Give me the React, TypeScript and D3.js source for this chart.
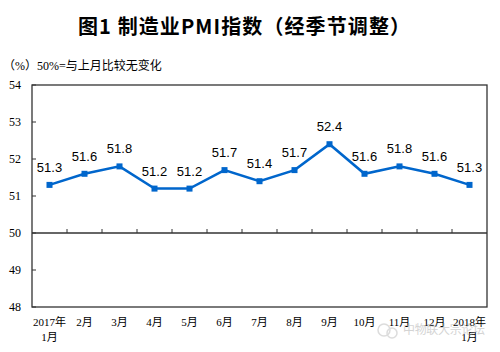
import React from "react";
import * as d3 from "d3";

const categories = ["2017年|1月", "2月", "3月", "4月", "5月", "6月", "7月", "8月", "9月", "10月", "11月", "12月", "2018年|1月"];
const pmiValues = [51.3, 51.6, 51.8, 51.2, 51.2, 51.7, 51.4, 51.7, 52.4, 51.6, 51.8, 51.6, 51.3];
const yTicks = [48, 49, 50, 51, 52, 53, 54];

const W = 500, H = 352;
const M = { left: 32, right: 13, top: 85, bottom: 45 };

export default function App() {
  const x = d3.scaleBand<number>().domain(d3.range(categories.length)).range([M.left, W - M.right]).padding(0);
  const y = d3.scaleLinear().domain([48, 54]).range([H - M.bottom, M.top]);
  const cx = (i: number) => (x(i) as number) + x.bandwidth() / 2;
  const line = d3.line<number>().x((_, i) => cx(i)).y((d) => y(d));
  const serif = "'Liberation Serif', 'Times New Roman', 'Noto Sans CJK SC', serif";
  const y50 = y(50);
  return (
    <svg width={W} height={H} style={{ position: "absolute", left: 0, top: 0, background: "#fff" }}>
      <text x={244} y={34} textAnchor="middle" fontSize={20} fontWeight="bold" fontFamily="'Noto Sans CJK SC', sans-serif" fill="#000" textLength={332} lengthAdjust="spacing">
        图1 制造业PMI指数（经季节调整）
      </text>
      <text x={3} y={70} fontSize={12} fontFamily={serif} fill="#000">（%）50%=与上月比较无变化</text>
      <rect x={M.left} y={M.top} width={W - M.left - M.right} height={H - M.top - M.bottom} fill="none" stroke="#333" strokeWidth={1.3} />
      <line x1={M.left} x2={W - M.right} y1={y50} y2={y50} stroke="#333" strokeWidth={1.3} />
      {d3.range(1, categories.length).map((i) => (
        <line key={i} x1={x(i) as number} x2={x(i) as number} y1={y50} y2={y50 - 4} stroke="#333" strokeWidth={1} />
      ))}
      {yTicks.map((t) => (
        <g key={t}>
          <line x1={M.left} x2={M.left + 4} y1={y(t)} y2={y(t)} stroke="#333" strokeWidth={1} />
          <text x={21} y={y(t) + 4} textAnchor="end" fontSize={12} fontFamily={serif} fill="#000">{t}</text>
        </g>
      ))}
      {categories.map((c, i) => {
        const parts = c.split("|");
        return (
          <text key={c} x={cx(i)} y={326} textAnchor="middle" fontSize={11} fontFamily={serif} fill="#000">
            {parts.map((p, k) => (
              <tspan key={k} x={cx(i)} dy={k === 0 ? 0 : 15}>{p}</tspan>
            ))}
          </text>
        );
      })}
      <path d={line(pmiValues) || ""} fill="none" stroke="#0066CC" strokeWidth={2.5} />
      {pmiValues.map((v, i) => (
        <rect key={i} x={cx(i) - 3} y={y(v) - 3} width={6} height={6} fill="#0066CC" />
      ))}
      {pmiValues.map((v, i) => (
        <text key={"l" + i} x={cx(i)} y={y(v) - 13} textAnchor="middle" fontSize={13} fontFamily="'Liberation Sans', Arial, sans-serif" fill="#000">
          {v.toFixed(1)}
        </text>
      ))}
      <g opacity={0.5}>
        <circle cx={384} cy={330} r={6} fill="none" stroke="#bbb" strokeWidth={1.5} />
        <circle cx={392} cy={333} r={5} fill="none" stroke="#bbb" strokeWidth={1.5} />
        <text x={403} y={334} fontSize={12} fontFamily="'Noto Sans CJK SC', sans-serif" fill="#aaa" textLength={82} lengthAdjust="spacing">中物联大宗论坛</text>
      </g>
    </svg>
  );
}
